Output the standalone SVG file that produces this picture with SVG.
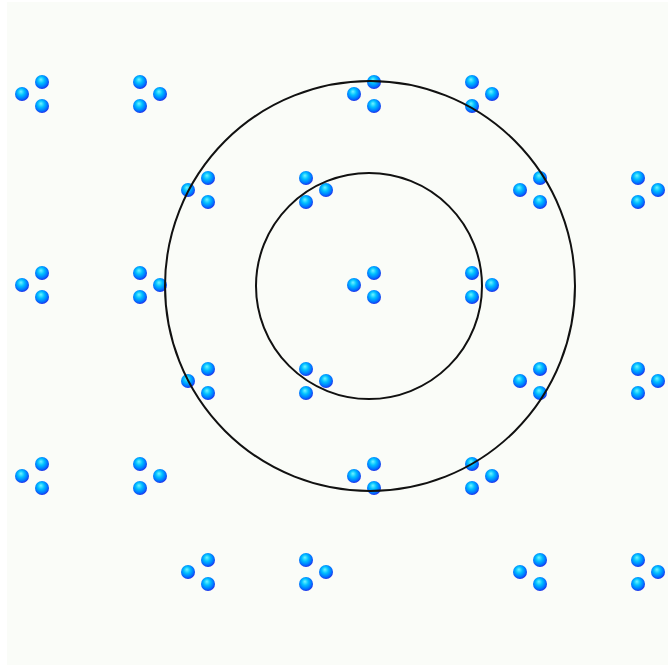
<svg xmlns="http://www.w3.org/2000/svg" xmlns:xlink="http://www.w3.org/1999/xlink" width="668" height="666" viewBox="0 0 668 666">
<style>
.ring{fill:none;stroke:#111;stroke-width:2}
.s{fill:url(#ball)}
</style>
<defs>
<radialGradient id="ball" cx="0.45" cy="0.42" r="0.58" fx="0.42" fy="0.32">
<stop offset="0" stop-color="#70f4ff"/>
<stop offset="0.4" stop-color="#00c0ff"/>
<stop offset="0.8" stop-color="#0070ff"/>
<stop offset="1" stop-color="#2030e8"/>
</radialGradient>
<g id="A"><circle class="s" cx="0" cy="0" r="7"/><circle class="s" cx="20" cy="-12" r="7"/><circle class="s" cx="20" cy="12" r="7"/></g>
<g id="B"><circle class="s" cx="0" cy="-12" r="7"/><circle class="s" cx="0" cy="12" r="7"/><circle class="s" cx="20" cy="0" r="7"/></g>
</defs>
<rect x="0" y="0" width="668" height="666" fill="#ffffff"/>
<rect x="7" y="2" width="661" height="663" fill="#fafcf8"/>
<g id="lattice">
<use xlink:href="#A" x="22" y="94"/><use xlink:href="#B" x="140" y="94"/><use xlink:href="#A" x="354" y="94"/><use xlink:href="#B" x="472" y="94"/>
<use xlink:href="#A" x="188" y="190"/><use xlink:href="#B" x="306" y="190"/><use xlink:href="#A" x="520" y="190"/><use xlink:href="#B" x="638" y="190"/>
<use xlink:href="#A" x="22" y="285"/><use xlink:href="#B" x="140" y="285"/><use xlink:href="#A" x="354" y="285"/><use xlink:href="#B" x="472" y="285"/>
<use xlink:href="#A" x="188" y="381"/><use xlink:href="#B" x="306" y="381"/><use xlink:href="#A" x="520" y="381"/><use xlink:href="#B" x="638" y="381"/>
<use xlink:href="#A" x="22" y="476"/><use xlink:href="#B" x="140" y="476"/><use xlink:href="#A" x="354" y="476"/><use xlink:href="#B" x="472" y="476"/>
<use xlink:href="#A" x="188" y="572"/><use xlink:href="#B" x="306" y="572"/><use xlink:href="#A" x="520" y="572"/><use xlink:href="#B" x="638" y="572"/>
</g>
<g id="rings">
<circle class="ring" cx="369" cy="286" r="113"/>
<circle class="ring" cx="370" cy="286" r="205"/>
</g>
</svg>
